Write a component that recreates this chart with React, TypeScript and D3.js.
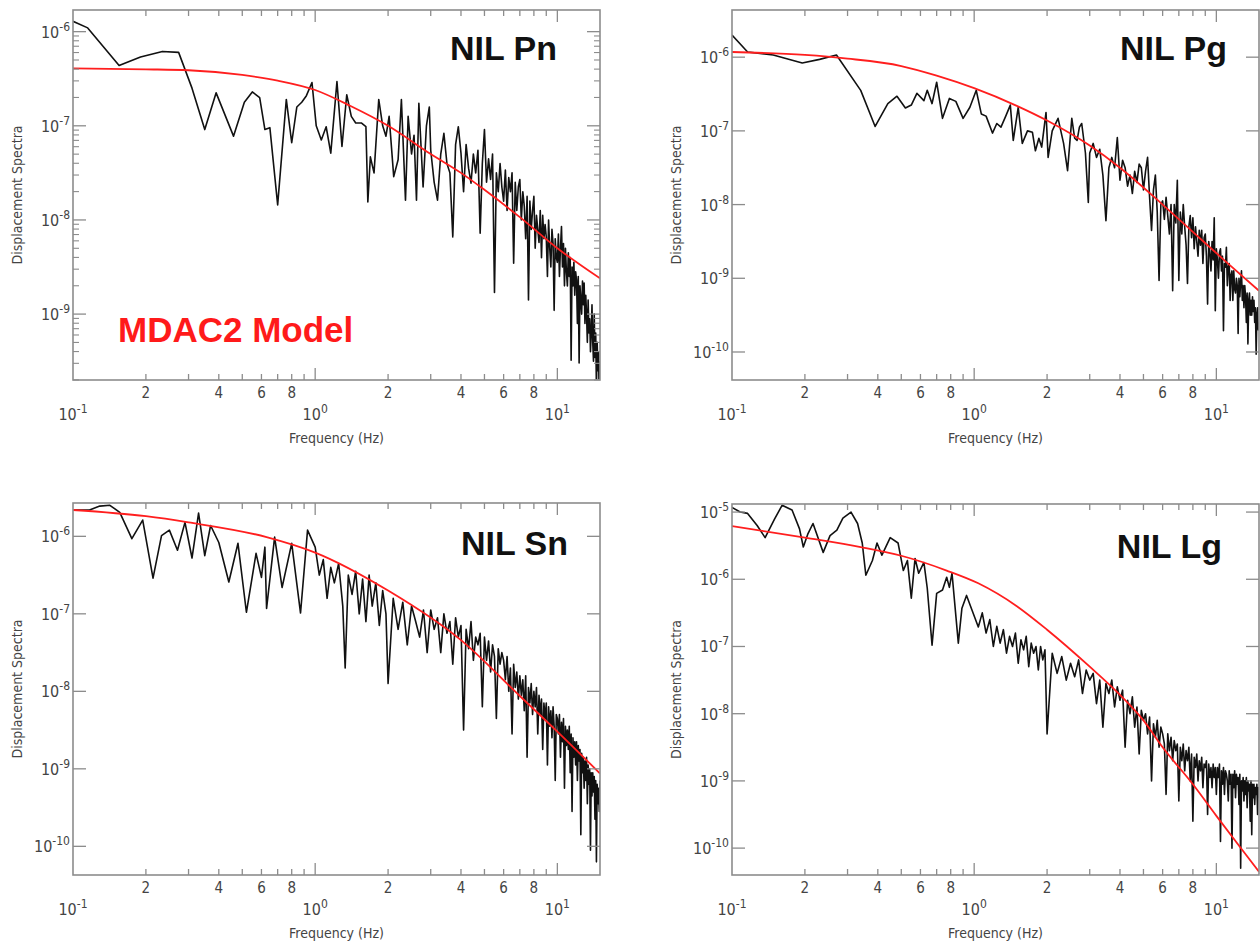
import React from "react";
import * as d3 from "d3";

// spectra as [frequency Hz, log10 displacement]
const pnSpectrum: [number, number][] = [
  [0.1, -5.89], [0.115, -5.96], [0.155, -6.36], [0.19, -6.27], [0.234, -6.21], [0.273, -6.22],
  [0.31, -6.6], [0.35, -7.04], [0.39, -6.65], [0.46, -7.11], [0.51, -6.75], [0.55, -6.64],
  [0.59, -6.7], [0.62, -7.04], [0.65, -7.02], [0.7, -7.84], [0.76, -6.72], [0.8, -7.18],
  [0.84, -6.8], [0.88, -6.75], [0.92, -6.68], [0.97, -6.54], [1.01, -7.0], [1.06, -7.15],
  [1.11, -7.01], [1.16, -7.29], [1.23, -6.53], [1.29, -7.22], [1.35, -6.67], [1.41, -6.9],
  [1.47, -6.97], [1.55, -6.97], [1.62, -7.01], [1.65, -7.81], [1.69, -7.33], [1.75, -7.5],
  [1.83, -6.72], [1.9, -7.0], [1.96, -7.11], [2.02, -6.9], [2.11, -7.54], [2.2, -7.36],
  [2.27, -6.72], [2.36, -7.79], [2.42, -6.9], [2.5, -7.3], [2.56, -7.1], [2.62, -7.79],
  [2.68, -6.76], [2.79, -7.65], [2.88, -7.0], [2.96, -6.8],
  [3.0, -7.26], [3.1, -7.6], [3.2, -7.79], [3.3, -7.3], [3.4, -7.08], [3.5, -7.4], [3.6, -7.5], [3.7, -8.18], [3.8, -7.2], [3.9, -7.01],
  [4.0, -7.29], [4.1, -7.7], [4.2, -7.2], [4.3, -7.45], [4.4, -7.61], [4.5, -7.3], [4.6, -7.5], [4.7, -7.26], [4.8, -8.14], [4.9, -7.4],
  [5.0, -7.04], [5.1, -7.6], [5.2, -7.35], [5.3, -7.57], [5.4, -7.3], [5.5, -8.77], [5.6, -7.5], [5.7, -7.7], [5.8, -7.4], [5.9, -7.65],
  [6.0, -7.8], [6.1, -7.47], [6.2, -7.9], [6.3, -7.55], [6.4, -7.7], [6.5, -7.5], [6.6, -8.46], [6.7, -7.6], [6.8, -7.9], [6.9, -7.65],
  [7.0, -7.57], [7.1, -8.0], [7.2, -7.7], [7.3, -7.85], [7.4, -8.2], [7.5, -7.75], [7.6, -8.85], [7.7, -7.8], [7.8, -8.1], [7.9, -7.9],
  [8.0, -7.75], [8.1, -8.3], [8.2, -7.95], [8.3, -8.1], [8.4, -8.24], [8.5, -7.9], [8.6, -8.4], [8.7, -7.95], [8.8, -8.2], [8.9, -8.05],
  [9.0, -8.18], [9.1, -8.6], [9.2, -8.0], [9.3, -8.3], [9.4, -8.5], [9.5, -8.1], [9.6, -8.25], [9.7, -8.96], [9.8, -8.2], [9.9, -8.4],
  [10.0, -8.45], [10.1, -8.15], [10.2, -8.6], [10.3, -8.3], [10.4, -8.07], [10.5, -8.5], [10.6, -8.25], [10.7, -8.7], [10.8, -8.3], [10.9, -8.55],
  [11.0, -8.7], [11.1, -8.35], [11.2, -8.6], [11.3, -8.4], [11.4, -9.49], [11.5, -8.5], [11.6, -8.7], [11.7, -8.45], [11.8, -8.8], [11.9, -8.55],
  [12.0, -8.64], [12.1, -9.1], [12.2, -8.6], [12.3, -9.52], [12.4, -8.7], [12.5, -8.85], [12.6, -9.0], [12.7, -8.65], [12.8, -8.9], [12.9, -8.67],
  [13.0, -9.1], [13.1, -8.8], [13.2, -9.0], [13.3, -9.3], [13.4, -8.85], [13.5, -9.2], [13.6, -9.05], [13.7, -9.4], [13.8, -9.2], [13.9, -8.9],
  [14.0, -9.3], [14.1, -9.5], [14.2, -9.0], [14.3, -9.46], [14.4, -9.2], [14.5, -9.8], [14.6, -9.3], [14.7, -9.6], [14.8, -9.4], [14.9, -10.0], [15.0, -9.5],
];

const pgSpectrum: [number, number][] = [
  [0.1, -5.7], [0.116, -5.93], [0.148, -5.97], [0.195, -6.08], [0.23, -6.03], [0.27, -5.97],
  [0.34, -6.45], [0.39, -6.94], [0.44, -6.63], [0.48, -6.53], [0.52, -6.69], [0.55, -6.65],
  [0.58, -6.49], [0.62, -6.59], [0.64, -6.45], [0.67, -6.63], [0.7, -6.34], [0.74, -6.83],
  [0.79, -6.56], [0.84, -6.6], [0.9, -6.83], [0.96, -6.68], [1.02, -6.45], [1.07, -6.77],
  [1.12, -6.8], [1.19, -7.03], [1.24, -6.9], [1.29, -6.95], [1.35, -6.8], [1.41, -6.65],
  [1.45, -7.13], [1.52, -6.68], [1.58, -7.17], [1.66, -7.0], [1.74, -7.02], [1.79, -7.27],
  [1.85, -7.1], [1.9, -7.22], [1.98, -6.75], [2.02, -7.36], [2.1, -7.0], [2.22, -6.83],
  [2.34, -7.17], [2.43, -7.54], [2.53, -6.83], [2.6, -7.1], [2.66, -7.13], [2.72, -6.95],
  [2.78, -6.9], [2.88, -7.3], [2.96, -7.97],
  [3.0, -7.3], [3.1, -7.17], [3.2, -7.36], [3.3, -7.25], [3.4, -7.6], [3.5, -8.22], [3.6, -7.5], [3.7, -7.36], [3.8, -7.5], [3.9, -7.09],
  [4.0, -7.67], [4.1, -7.4], [4.2, -7.5], [4.3, -7.75], [4.4, -7.6], [4.5, -7.85], [4.6, -7.55], [4.7, -7.7], [4.8, -7.45], [4.9, -7.5],
  [5.0, -7.8], [5.1, -7.55], [5.2, -7.36], [5.3, -7.9], [5.4, -8.35], [5.5, -7.8], [5.6, -7.6], [5.7, -8.1], [5.8, -9.03], [5.9, -8.0],
  [6.0, -7.95], [6.1, -8.2], [6.2, -7.9], [6.3, -8.15], [6.4, -8.4], [6.5, -8.0], [6.6, -9.17], [6.7, -8.0], [6.8, -8.25], [6.9, -7.67],
  [7.0, -9.03], [7.1, -8.1], [7.2, -8.4], [7.3, -8.0], [7.4, -8.3], [7.5, -8.55], [7.6, -9.07], [7.7, -8.3], [7.8, -8.15], [7.9, -8.45],
  [8.0, -8.18], [8.1, -8.6], [8.2, -8.3], [8.3, -8.5], [8.4, -8.7], [8.5, -8.35], [8.6, -8.55], [8.7, -8.35], [8.8, -8.8], [8.9, -8.45],
  [9.0, -8.4], [9.1, -8.7], [9.2, -9.35], [9.3, -8.5], [9.4, -8.65], [9.5, -8.9], [9.6, -8.5], [9.7, -8.75], [9.8, -8.18], [9.9, -9.44],
  [10.0, -8.6], [10.1, -8.75], [10.2, -9.0], [10.3, -8.65], [10.4, -8.6], [10.5, -8.9], [10.6, -8.7], [10.7, -9.71], [10.8, -8.8], [10.9, -8.85],
  [11.0, -8.58], [11.1, -9.1], [11.2, -8.85], [11.3, -8.8], [11.4, -9.3], [11.5, -8.95], [11.6, -8.9], [11.7, -9.3], [11.8, -8.9], [11.9, -9.15],
  [12.0, -9.2], [12.1, -9.0], [12.2, -9.1], [12.3, -9.75], [12.4, -9.0], [12.5, -9.25], [12.6, -9.05], [12.7, -8.9], [12.8, -9.3], [12.9, -9.1],
  [13.0, -9.4], [13.1, -9.1], [13.2, -9.25], [13.3, -9.6], [13.4, -9.2], [13.5, -9.89], [13.6, -9.3], [13.7, -9.2], [13.8, -9.5], [13.9, -9.3],
  [14.0, -9.5], [14.1, -9.25], [14.2, -9.45], [14.3, -9.3], [14.4, -9.6], [14.5, -9.4], [14.6, -10.03], [14.7, -9.5], [14.8, -9.4], [14.9, -9.7], [15.0, -9.6],
];

const snSpectrum: [number, number][] = [
  [0.1, -5.66], [0.117, -5.66], [0.129, -5.61], [0.142, -5.6], [0.156, -5.69], [0.175, -6.03],
  [0.194, -5.79], [0.214, -6.54], [0.232, -5.99], [0.25, -5.92], [0.27, -6.18], [0.29, -5.82],
  [0.31, -6.28], [0.33, -5.7], [0.35, -6.25], [0.37, -5.86], [0.4, -6.08], [0.44, -6.59],
  [0.48, -6.09], [0.52, -6.98], [0.57, -6.22], [0.6, -6.53], [0.62, -6.14], [0.63, -6.93],
  [0.68, -6.01], [0.73, -6.66], [0.8, -6.09], [0.87, -6.99], [0.93, -5.92], [1.0, -6.14],
  [1.04, -6.5], [1.08, -6.3], [1.12, -6.8], [1.16, -6.4], [1.2, -6.6], [1.25, -6.35],
  [1.3, -6.9], [1.33, -7.7], [1.37, -6.5], [1.42, -6.75], [1.47, -6.45], [1.52, -7.0],
  [1.57, -6.55], [1.62, -7.1], [1.67, -6.5], [1.72, -6.9], [1.78, -6.6], [1.84, -7.15],
  [1.9, -6.7], [1.96, -7.0],
  [2.0, -7.9], [2.1, -6.8], [2.2, -7.2], [2.3, -6.85], [2.4, -7.4], [2.5, -6.9], [2.6, -7.1], [2.7, -7.3], [2.8, -6.95], [2.9, -7.5],
  [3.0, -6.95], [3.1, -7.2], [3.2, -7.05], [3.3, -7.5], [3.4, -7.0], [3.5, -7.25], [3.6, -7.1], [3.7, -7.65], [3.8, -7.05], [3.9, -7.3],
  [4.0, -7.15], [4.1, -8.5], [4.2, -7.2], [4.3, -7.45], [4.4, -7.1], [4.5, -7.6], [4.6, -7.3], [4.7, -7.4], [4.8, -7.25], [4.9, -8.2],
  [5.0, -7.3], [5.1, -7.6], [5.2, -7.35], [5.3, -7.75], [5.4, -7.4], [5.5, -7.55], [5.6, -8.35], [5.7, -7.45], [5.8, -7.65], [5.9, -7.5],
  [6.0, -7.6], [6.1, -7.85], [6.2, -7.55], [6.3, -8.0], [6.4, -7.7], [6.5, -8.55], [6.6, -7.65], [6.7, -7.95], [6.8, -7.75], [6.9, -8.1],
  [7.0, -7.8], [7.1, -8.05], [7.2, -7.85], [7.3, -8.25], [7.4, -7.8], [7.5, -8.85], [7.6, -7.95], [7.7, -8.15], [7.8, -7.9], [7.9, -8.3],
  [8.0, -8.0], [8.1, -8.2], [8.2, -7.95], [8.3, -8.55], [8.4, -8.05], [8.5, -8.3], [8.6, -8.1], [8.7, -8.75], [8.8, -8.15], [8.9, -8.35],
  [9.0, -8.15], [9.1, -8.95], [9.2, -8.2], [9.3, -8.45], [9.4, -8.25], [9.5, -8.6], [9.6, -8.2], [9.7, -8.45], [9.8, -9.15], [9.9, -8.3],
  [10.0, -8.35], [10.1, -8.55], [10.2, -8.3], [10.3, -8.85], [10.4, -8.4], [10.5, -8.65], [10.6, -8.35], [10.7, -9.25], [10.8, -8.45], [10.9, -8.7],
  [11.0, -8.5], [11.1, -8.75], [11.2, -8.45], [11.3, -9.05], [11.4, -8.55], [11.5, -9.55], [11.6, -8.6], [11.7, -8.85], [11.8, -8.65], [11.9, -8.95],
  [12.0, -8.65], [12.1, -9.15], [12.2, -8.7], [12.3, -8.9], [12.4, -8.75], [12.5, -9.85], [12.6, -8.8], [12.7, -9.05], [12.8, -8.85], [12.9, -9.25],
  [13.0, -8.9], [13.1, -9.15], [13.2, -8.85], [13.3, -9.45], [13.4, -8.95], [13.5, -9.2], [13.6, -9.0], [13.7, -10.05], [13.8, -9.05], [13.9, -9.35],
  [14.0, -9.05], [14.1, -9.3], [14.2, -9.1], [14.3, -9.65], [14.4, -9.15], [14.5, -10.2], [14.6, -9.2], [14.7, -9.45], [14.8, -9.25], [14.9, -9.55], [15.0, -9.15],
];

const lgSpectrum: [number, number][] = [
  [0.1, -4.93], [0.108, -5.0], [0.116, -5.02], [0.127, -5.2], [0.137, -5.38], [0.15, -5.1],
  [0.161, -4.9], [0.177, -4.97], [0.19, -5.25], [0.197, -5.52], [0.206, -5.32], [0.216, -5.17],
  [0.238, -5.6], [0.254, -5.35], [0.271, -5.27], [0.287, -5.09], [0.31, -5.0], [0.33, -5.17],
  [0.345, -5.46], [0.357, -5.94], [0.38, -5.72], [0.397, -5.46], [0.416, -5.64], [0.45, -5.38],
  [0.485, -5.46], [0.51, -5.87], [0.53, -5.72], [0.55, -6.28], [0.57, -5.69], [0.59, -5.91],
  [0.62, -5.75], [0.64, -6.13], [0.67, -6.98], [0.7, -6.21], [0.74, -6.16], [0.77, -5.97],
  [0.79, -6.12], [0.81, -5.91], [0.86, -6.95], [0.89, -6.43], [0.93, -6.24], [0.98, -6.46],
  [1.04, -6.71], [1.08, -6.5], [1.12, -6.8], [1.16, -6.6], [1.2, -7.0], [1.24, -6.7], [1.28, -6.95],
  [1.32, -6.75], [1.36, -7.1], [1.4, -6.85], [1.44, -7.0], [1.48, -6.8], [1.52, -7.25], [1.56, -6.9],
  [1.6, -7.05], [1.64, -6.85], [1.68, -7.3], [1.72, -6.95], [1.76, -7.1], [1.8, -7.0], [1.84, -7.35],
  [1.88, -7.0], [1.92, -7.2], [1.96, -7.05],
  [2.0, -8.3], [2.1, -7.1], [2.2, -7.4], [2.3, -7.15], [2.4, -7.5], [2.5, -7.25], [2.6, -7.45], [2.7, -7.2], [2.8, -7.7], [2.9, -7.35],
  [3.0, -7.5], [3.1, -7.4], [3.2, -7.85], [3.3, -7.5], [3.4, -8.2], [3.5, -7.55], [3.6, -7.7], [3.7, -7.5], [3.8, -7.9], [3.9, -7.6],
  [4.0, -7.8], [4.1, -7.65], [4.2, -8.5], [4.3, -7.8], [4.4, -8.0], [4.5, -7.75], [4.6, -8.2], [4.7, -7.9], [4.8, -8.6], [4.9, -7.95],
  [5.0, -8.1], [5.1, -8.0], [5.2, -8.3], [5.3, -8.05], [5.4, -9.0], [5.5, -8.15], [5.6, -8.35], [5.7, -8.1], [5.8, -8.5], [5.9, -8.2],
  [6.0, -8.3], [6.1, -8.45], [6.2, -9.2], [6.3, -8.3], [6.4, -8.55], [6.5, -8.35], [6.6, -8.7], [6.7, -8.4], [6.8, -8.55], [6.9, -8.45],
  [7.0, -9.3], [7.1, -8.5], [7.2, -8.7], [7.3, -8.45], [7.4, -8.85], [7.5, -8.55], [7.6, -8.7], [7.7, -8.5], [7.8, -9.0], [7.9, -8.6],
  [8.0, -9.6], [8.1, -8.65], [8.2, -8.8], [8.3, -8.6], [8.4, -9.0], [8.5, -8.7], [8.6, -8.85], [8.7, -8.65], [8.8, -9.1], [8.9, -8.75],
  [9.0, -8.8], [9.1, -8.7], [9.2, -9.5], [9.3, -8.75], [9.4, -8.95], [9.5, -8.8], [9.6, -9.1], [9.7, -8.75], [9.8, -8.95], [9.9, -8.8],
  [10.0, -9.2], [10.1, -8.8], [10.2, -8.95], [10.3, -8.75], [10.4, -9.9], [10.5, -8.85], [10.6, -9.05], [10.7, -8.8], [10.8, -9.2], [10.9, -8.85],
  [11.0, -8.9], [11.1, -9.0], [11.2, -9.3], [11.3, -8.85], [11.4, -9.05], [11.5, -8.9], [11.6, -10.0], [11.7, -8.9], [11.8, -9.1], [11.9, -8.85],
  [12.0, -9.25], [12.1, -8.9], [12.2, -9.05], [12.3, -8.95], [12.4, -9.35], [12.5, -8.9], [12.6, -10.3], [12.7, -9.0], [12.8, -9.15], [12.9, -8.95],
  [13.0, -9.3], [13.1, -9.0], [13.2, -9.2], [13.3, -8.95], [13.4, -9.4], [13.5, -9.0], [13.6, -9.15], [13.7, -9.05], [13.8, -9.6], [13.9, -9.0],
  [14.0, -9.8], [14.1, -9.05], [14.2, -9.25], [14.3, -9.05], [14.4, -9.35], [14.5, -9.1], [14.6, -9.2], [14.7, -9.05], [14.8, -9.5], [14.9, -9.1], [15.0, -9.25],
];

// MDAC2 model curves, [frequency Hz, log10 displacement]
const pnModel: [number, number][] = [
  [0.1, -6.39], [0.2, -6.4], [0.3, -6.41], [0.5, -6.46], [0.7, -6.52], [1.0, -6.62], [1.4, -6.79],
  [2.0, -7.0], [3.0, -7.3], [4.0, -7.5], [5.0, -7.68], [7.0, -7.97], [10.0, -8.3], [15.0, -8.62],
];
const pgModel: [number, number][] = [
  [0.1, -5.93], [0.2, -5.97], [0.3, -6.02], [0.5, -6.12], [0.7, -6.25], [1.0, -6.42], [1.5, -6.66],
  [2.0, -6.86], [3.0, -7.2], [4.0, -7.5], [6.0, -8.0], [8.5, -8.45], [11.0, -8.78], [15.0, -9.17],
];
const snModel: [number, number][] = [
  [0.1, -5.66], [0.2, -5.74], [0.3, -5.82], [0.63, -6.01], [1.0, -6.21], [2.0, -6.7],
  [4.0, -7.34], [7.0, -8.06], [10.0, -8.52], [15.0, -9.06],
];
const lgModel: [number, number][] = [
  [0.1, -5.21], [0.2, -5.38], [0.34, -5.52], [0.5, -5.65], [0.77, -5.87], [1.04, -6.06],
  [1.5, -6.4], [2.0, -6.75], [3.0, -7.3], [4.0, -7.72], [5.0, -8.1], [6.0, -8.5], [8.0, -9.05],
  [10.0, -9.52], [12.5, -9.98], [15.0, -10.35],
];

const xMinorTicks = [0.2, 0.3, 0.4, 0.5, 0.6, 0.7, 0.8, 0.9, 2, 3, 4, 5, 6, 7, 8, 9];
const xMajorTicks = [1, 10];
const xMinorLabels = [0.2, 0.4, 0.6, 0.8, 2, 4, 6, 8];
const xMinorLabelText = ["2", "4", "6", "8", "2", "4", "6", "8"];
const xDecades = [0.1, 1, 10];
const xDecadeExp = ["-1", "0", "1"];

const panels = [
  { title: "NIL Pn", spectrum: pnSpectrum, model: pnModel, yLow: -9.7, yHigh: -5.77, decades: [-6, -7, -8, -9], minorY: true, left: 73, right: 600, top: 10, bottom: 380, titleX: 557, titleY: 60, id: "pn" },
  { title: "NIL Pg", spectrum: pgSpectrum, model: pgModel, yLow: -10.38, yHigh: -5.36, decades: [-6, -7, -8, -9, -10], minorY: false, left: 732, right: 1259, top: 10, bottom: 380, titleX: 1227, titleY: 60, id: "pg" },
  { title: "NIL Sn", spectrum: snSpectrum, model: snModel, yLow: -10.37, yHigh: -5.57, decades: [-6, -7, -8, -9, -10], minorY: false, left: 73, right: 600, top: 503, bottom: 875, titleX: 568, titleY: 555, id: "sn" },
  { title: "NIL Lg", spectrum: lgSpectrum, model: lgModel, yLow: -10.4, yHigh: -4.88, decades: [-5, -6, -7, -8, -9, -10], minorY: false, left: 732, right: 1259, top: 504, bottom: 875, titleX: 1222, titleY: 558, id: "lg" },
];

const tickFont = "'Liberation Sans Narrow', 'DejaVu Sans Condensed', sans-serif";
const axisColor = "#8c8c8c";
const labelColor = "#444";

function Panel({ cfg }: { cfg: typeof panels[number] }) {
  const x = d3.scaleLog().domain([0.1, 15]).range([cfg.left, cfg.right]);
  const y = d3.scaleLog().domain([10 ** cfg.yLow, 10 ** cfg.yHigh]).range([cfg.bottom, cfg.top]);
  const line = d3.line<[number, number]>().x((d) => x(d[0])).y((d) => y(10 ** d[1]));
  const modelLine = d3
    .line<[number, number]>()
    .x((d) => x(d[0]))
    .y((d) => y(10 ** d[1]))
    .curve(d3.curveMonotoneX);

  const yMinor: number[] = [];
  if (cfg.minorY) {
    for (let e = Math.floor(cfg.yLow); e < cfg.yHigh; e++) {
      for (let k = 2; k <= 9; k++) {
        const v = k * 10 ** e;
        if (v > 10 ** cfg.yLow && v < 10 ** cfg.yHigh) yMinor.push(v);
      }
    }
  }
  const midY = (cfg.top + cfg.bottom) / 2;
  const midX = (cfg.left + cfg.right) / 2;

  return (
    <g>
      <defs>
        <clipPath id={`clip-${cfg.id}`}>
          <rect x={cfg.left} y={cfg.top} width={cfg.right - cfg.left} height={cfg.bottom - cfg.top} />
        </clipPath>
      </defs>

      <g clipPath={`url(#clip-${cfg.id})`}>
        <path d={line(cfg.spectrum) || ""} fill="none" stroke="#111" strokeWidth={1.6} strokeLinejoin="round" />
        <path d={modelLine(cfg.model) || ""} fill="none" stroke="#ff1e1e" strokeWidth={1.8} />
      </g>

      <rect x={cfg.left} y={cfg.top} width={cfg.right - cfg.left} height={cfg.bottom - cfg.top} fill="none" stroke={axisColor} strokeWidth={1.6} />

      {/* x ticks on bottom and top */}
      {xMinorTicks.map((t) => (
        <g key={`xm${t}`} stroke={axisColor} strokeWidth={1.3}>
          <line x1={x(t)} x2={x(t)} y1={cfg.bottom} y2={cfg.bottom - 6} />
          <line x1={x(t)} x2={x(t)} y1={cfg.top} y2={cfg.top + 6} />
        </g>
      ))}
      {xMajorTicks.map((t) => (
        <g key={`xM${t}`} stroke={axisColor} strokeWidth={1.3}>
          <line x1={x(t)} x2={x(t)} y1={cfg.bottom} y2={cfg.bottom - 12} />
          <line x1={x(t)} x2={x(t)} y1={cfg.top} y2={cfg.top + 12} />
        </g>
      ))}

      {/* y ticks on left and right */}
      {cfg.decades.map((e) => (
        <g key={`yM${e}`} stroke={axisColor} strokeWidth={1.3}>
          <line x1={cfg.left} x2={cfg.left + 13} y1={y(10 ** e)} y2={y(10 ** e)} />
          <line x1={cfg.right} x2={cfg.right - 13} y1={y(10 ** e)} y2={y(10 ** e)} />
        </g>
      ))}
      {yMinor.map((v) => (
        <g key={`ym${v}`} stroke={axisColor} strokeWidth={1.1}>
          <line x1={cfg.left} x2={cfg.left + 6} y1={y(v)} y2={y(v)} />
          <line x1={cfg.right} x2={cfg.right - 6} y1={y(v)} y2={y(v)} />
        </g>
      ))}

      <g fontFamily={tickFont} fill={labelColor}>
        {xMinorLabels.map((t, i) => (
          <text key={`xl${t}`} x={x(t)} y={cfg.bottom + 18} textAnchor="middle" fontSize={15}>
            {xMinorLabelText[i]}
          </text>
        ))}
        {xDecades.map((t, i) => (
          <text key={`xd${t}`} x={x(t)} y={cfg.bottom + 40} textAnchor="middle" fontSize={16}>
            10<tspan dy={-7} fontSize={12}>{xDecadeExp[i]}</tspan>
          </text>
        ))}
        {cfg.decades.map((e) => (
          <text key={`yl${e}`} x={cfg.left - 3} y={y(10 ** e) + 6} textAnchor="end" fontSize={16}>
            10<tspan dy={-7} fontSize={12}>{String(e)}</tspan>
          </text>
        ))}
        <text x={midX} y={cfg.bottom + 63} textAnchor="middle" fontSize={14}>
          Frequency  (Hz)
        </text>
        <text
          transform={`translate(${cfg.left - 51},${midY}) rotate(-90)`}
          textAnchor="middle"
          fontSize={14}
        >
          Displacement  Spectra
        </text>
      </g>

      <text
        x={cfg.titleX}
        y={cfg.titleY}
        textAnchor="end"
        fontFamily="'Liberation Sans', Arial, sans-serif"
        fontWeight="bold"
        fontSize={34}
        fill="#111"
      >
        {cfg.title}
      </text>
    </g>
  );
}

export default function App() {
  return (
    <div style={{ position: "absolute", left: 0, top: 0 }}>
      <svg width={1260} height={947} style={{ display: "block", background: "#fff" }}>
        {panels.map((p) => (
          <Panel key={p.id} cfg={p} />
        ))}
        <text
          x={118}
          y={342}
          fontFamily="'Liberation Sans', Arial, sans-serif"
          fontWeight="bold"
          fontSize={35}
          fill="#ff1a1a"
        >
          MDAC2 Model
        </text>
      </svg>
    </div>
  );
}
